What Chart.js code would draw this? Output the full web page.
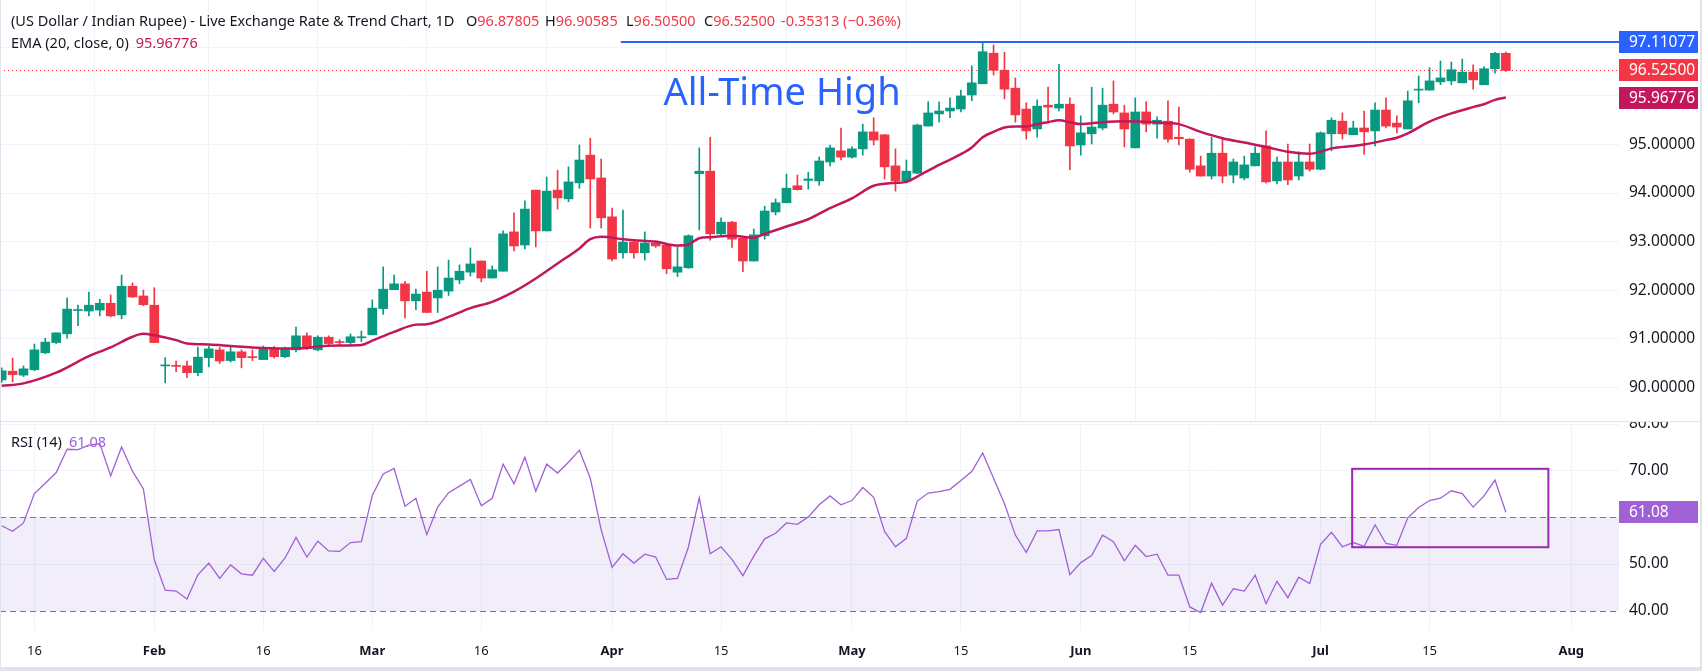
<!DOCTYPE html>
<html>
<head>
<meta charset="utf-8">
<script src="https://cdn.jsdelivr.net/npm/chart.js@4.4.1/dist/chart.umd.min.js"></script>
<style>
  html, body { margin: 0; padding: 0; background: #fff; }
  #wrap { position: relative; width: 1702px; height: 671px; overflow: hidden; background: #fff; }
  canvas { position: absolute; left: 0; }
  #price { top: 0; }
  #rsi { top: 421px; }
  .edge { position: absolute; background: #e0e3eb; }
</style>
</head>
<body>
<div id="wrap">
  <canvas id="price" width="1702" height="421"></canvas>
  <canvas id="rsi" width="1702" height="248"></canvas>
  <div class="edge" style="left:0;top:0;width:1px;height:671px"></div>
  <div class="edge" style="left:1700px;top:0;width:2px;height:671px"></div>
  <div class="edge" style="left:0;top:667px;width:1702px;height:4px"></div>
</div>
<script>
// daily bars, 13 Jan 2026 (index 0) .. 24 Jul 2026 (index 138)
const opens = [
  90.15, 90.33, 90.25, 90.36, 90.71, 90.92, 91.10, 91.58, 91.57, 91.59,
  91.73, 91.49, 92.08, 91.88, 91.69, 90.44, 90.45, 90.44, 90.30, 90.61,
  90.77, 90.55, 90.73, 90.63, 90.57, 90.80, 90.63, 90.77, 91.06, 90.77,
  91.03, 90.93, 90.92, 91.02, 91.08, 91.62, 92.01, 92.13, 91.78, 91.96,
  91.84, 91.98, 92.21, 92.37, 92.60, 92.25, 92.39, 93.20, 92.93, 94.06,
  93.22, 94.06, 93.88, 94.21, 94.78, 94.31, 93.51, 92.77, 92.99, 92.77,
  92.97, 92.93, 92.37, 92.46, 94.40, 94.45, 93.16, 93.40, 93.07, 92.60,
  93.12, 93.61, 93.80, 94.15, 94.26, 94.25, 94.64, 94.87, 94.74, 94.91,
  95.26, 95.20, 94.56, 94.25, 94.41, 95.38, 95.63, 95.69, 95.73, 96.02,
  96.25, 96.88, 96.53, 96.16, 95.73, 95.32, 95.81, 95.75, 95.83, 94.99,
  95.22, 95.34, 95.83, 95.65, 94.93, 95.67, 95.42, 95.48, 95.15, 95.11,
  94.56, 94.35, 94.82, 94.37, 94.31, 94.56, 94.97, 94.25, 94.64, 94.35,
  94.64, 94.49, 95.22, 95.48, 95.20, 95.34, 95.28, 95.71, 95.44, 95.32,
  96.12, 96.12, 96.29, 96.31, 96.27, 96.49, 96.23, 96.56, 96.87805
];
const highs = [
  90.40, 90.60, 90.44, 90.89, 91.01, 91.12, 91.84, 91.69, 91.96, 91.81,
  91.90, 92.31, 92.15, 92.00, 92.05, 90.61, 90.54, 90.54, 90.83, 90.84,
  90.82, 90.85, 90.77, 90.77, 90.85, 90.84, 90.83, 91.24, 91.12, 91.06,
  91.06, 90.98, 91.10, 91.16, 91.80, 92.48, 92.31, 92.18, 92.02, 92.39,
  92.48, 92.62, 92.52, 92.87, 92.60, 92.50, 93.22, 93.59, 93.84, 94.06,
  94.33, 94.47, 94.54, 94.99, 95.13, 94.70, 93.69, 93.65, 93.00, 93.20,
  93.00, 92.93, 92.89, 93.14, 94.93, 95.15, 93.49, 93.42, 93.10, 93.26,
  93.73, 93.88, 94.39, 94.37, 94.43, 94.74, 94.99, 95.34, 94.95, 95.42,
  95.55, 95.21, 94.91, 94.68, 95.42, 95.88, 95.88, 95.96, 96.12, 96.62,
  97.11077, 97.05, 96.90, 96.37, 95.86, 95.92, 96.18, 96.65, 95.96, 95.59,
  96.18, 96.16, 96.31, 95.81, 95.96, 95.88, 95.57, 95.90, 95.77, 95.12,
  94.76, 95.15, 95.13, 94.70, 94.76, 94.95, 95.28, 94.74, 95.01, 94.85,
  95.01, 95.26, 95.55, 95.65, 95.48, 95.69, 95.86, 95.96, 95.59, 96.10,
  96.41, 96.58, 96.72, 96.70, 96.76, 96.64, 96.60, 96.90, 96.90585
];
const lows = [
  90.10, 90.11, 90.22, 90.34, 90.69, 90.90, 91.01, 91.27, 91.47, 91.47,
  91.45, 91.41, 91.85, 91.68, 90.92, 90.09, 90.32, 90.20, 90.24, 90.42,
  90.49, 90.52, 90.40, 90.55, 90.57, 90.60, 90.61, 90.73, 90.78, 90.75,
  90.87, 90.88, 90.86, 90.94, 91.08, 91.50, 92.01, 91.43, 91.60, 91.54,
  91.54, 91.89, 92.13, 92.29, 92.17, 92.25, 92.39, 92.81, 92.85, 92.89,
  93.22, 93.67, 93.82, 94.10, 93.28, 93.28, 92.60, 92.66, 92.66, 92.62,
  92.88, 92.34, 92.28, 92.45, 93.24, 93.03, 93.10, 92.88, 92.38, 92.60,
  93.05, 93.55, 93.80, 94.06, 94.08, 94.16, 94.56, 94.68, 94.72, 94.78,
  94.99, 94.29, 94.04, 94.21, 94.40, 95.38, 95.46, 95.55, 95.67, 95.90,
  96.25, 96.43, 95.94, 95.46, 95.11, 95.15, 95.46, 95.69, 94.48, 94.78,
  95.01, 95.30, 95.63, 94.95, 94.93, 95.26, 95.13, 95.05, 94.99, 94.43,
  94.35, 94.29, 94.21, 94.21, 94.27, 94.56, 94.21, 94.19, 94.17, 94.27,
  94.45, 94.48, 94.87, 95.11, 95.20, 94.80, 94.97, 95.34, 95.24, 95.32,
  95.86, 96.12, 96.23, 96.23, 96.27, 96.14, 96.23, 96.47, 96.50500
];
const closes = [
  90.34, 90.26, 90.38, 90.77, 90.93, 91.12, 91.61, 91.60, 91.69, 91.73,
  91.47, 92.08, 91.86, 91.70, 90.92, 90.46, 90.43, 90.30, 90.62, 90.79,
  90.54, 90.73, 90.61, 90.61, 90.81, 90.63, 90.80, 91.06, 90.80, 91.03,
  90.90, 90.92, 91.04, 91.04, 91.63, 92.02, 92.13, 91.78, 91.92, 91.54,
  92.00, 92.25, 92.39, 92.54, 92.25, 92.42, 93.16, 92.91, 93.67, 93.22,
  94.04, 93.90, 94.23, 94.68, 94.29, 93.49, 92.64, 92.99, 92.77, 92.97,
  92.91, 92.44, 92.48, 93.12, 94.45, 93.16, 93.40, 93.05, 92.60, 93.14,
  93.63, 93.80, 94.10, 94.07, 94.29, 94.66, 94.93, 94.74, 94.91, 95.26,
  95.09, 94.54, 94.25, 94.45, 95.40, 95.65, 95.69, 95.75, 96.00, 96.27,
  96.91, 96.53, 96.14, 95.61, 95.28, 95.79, 95.77, 95.83, 94.97, 95.24,
  95.36, 95.81, 95.67, 95.32, 95.67, 95.42, 95.50, 95.11, 95.12, 94.49,
  94.35, 94.82, 94.35, 94.64, 94.58, 94.82, 94.23, 94.64, 94.27, 94.64,
  94.49, 95.24, 95.50, 95.22, 95.34, 95.26, 95.71, 95.38, 95.36, 95.90,
  96.14, 96.31, 96.37, 96.54, 96.49, 96.33, 96.56, 96.87813, 96.52500
];

// EMA(20) at these bar indexes
const emaIdx = [0, 2, 5, 8, 10, 12, 13, 14, 16, 17, 19, 21, 23, 26, 28, 29, 31, 33, 34, 36,
  38, 39, 41, 43, 45, 47, 49, 51, 53, 54, 55, 57, 58, 60, 62, 63, 64, 65, 67, 69,
  70, 72, 74, 76, 78, 80, 82, 83, 84, 86, 88, 89, 90, 91, 92, 93, 94, 95, 96, 97,
  98, 99, 101, 103, 105, 107, 108, 110, 112, 114, 116, 118, 120, 121, 122, 124, 125, 127, 128, 129,
  131, 133, 135, 136, 137, 138];
const emaVal = [90.03, 90.08, 90.30, 90.64, 90.82, 91.04, 91.10, 91.07, 90.97, 90.90, 90.88, 90.85, 90.82, 90.80, 90.81, 90.84, 90.86, 90.87, 90.96, 91.14,
  91.29, 91.30, 91.45, 91.63, 91.76, 91.97, 92.24, 92.55, 92.86, 93.05, 93.10, 93.05, 93.03, 93.00, 92.92, 92.94, 93.07, 93.09, 93.12, 93.08,
  93.16, 93.31, 93.46, 93.69, 93.89, 94.15, 94.21, 94.23, 94.34, 94.58, 94.80, 94.94, 95.15, 95.26, 95.35, 95.37, 95.37, 95.42, 95.46, 95.50,
  95.46, 95.42, 95.46, 95.48, 95.47, 95.44, 95.42, 95.26, 95.13, 95.04, 94.95, 94.85, 94.81, 94.85, 94.92, 94.97, 95.00, 95.09, 95.14, 95.23,
  95.47, 95.64, 95.77, 95.83, 95.92, 95.96776];

const rsi = [
  58.2, 57.0, 58.8, 65.1, 67.3, 69.6, 74.6, 74.5, 75.5, 75.8,
  68.9, 75.1, 69.9, 66.1, 50.9, 44.4, 44.2, 42.5, 47.7, 50.2,
  46.9, 49.8, 47.9, 47.6, 51.2, 48.4, 51.3, 55.7, 51.5, 54.9,
  52.8, 52.7, 54.6, 54.8, 64.7, 69.3, 70.5, 62.4, 64.1, 56.3,
  62.2, 65.3, 66.7, 68.1, 62.5, 64.1, 71.4, 67.2, 72.9, 65.6,
  71.4, 69.5, 71.8, 74.4, 68.4, 57.3, 49.3, 52.2, 50.2, 52.1,
  51.5, 46.7, 46.9, 53.6, 64.2, 52.2, 53.7, 51.0, 47.5, 51.7,
  55.4, 56.6, 58.8, 58.5, 60.1, 62.7, 64.6, 62.7, 63.6, 66.4,
  64.3, 57.0, 53.7, 55.5, 63.5, 65.2, 65.5, 66.0, 67.9, 69.8,
  73.8, 68.4, 62.9, 56.2, 52.5, 57.1, 57.1, 57.4, 47.7, 50.3,
  51.8, 56.2, 54.8, 50.7, 54.0, 51.6, 52.1, 47.6, 47.6, 40.8,
  39.6, 45.9, 41.2, 44.7, 44.2, 47.6, 41.5, 46.3, 42.8, 47.2,
  45.8, 54.2, 56.8, 53.7, 54.6, 53.8, 58.4, 54.4, 54.0, 59.9,
  62.1, 63.6, 64.1, 65.7, 65.1, 62.2, 64.6, 68.0, 61.08
];

// date axis
const tickIdx = [3, 14, 24, 34, 44, 56, 66, 78, 88, 99, 109, 121, 131, 144];
const tickText = ['16', 'Feb', '16', 'Mar', '16', 'Apr', '15', 'May', '15', 'Jun', '15', 'Jul', '15', 'Aug'];
const priceTicks = [90, 91, 92, 93, 94, 95, 96, 97];
const rsiTicks = [40, 50, 60, 70, 80];
const rsiBand = [40, 60];

const athValue = 97.11077;
const athFrom = 56.8;
const rsiBox = { x0: 123.9, x1: 141.9, y0: 53.6, y1: 70.4 };

// view
const xMin = -0.156, xMax = 148.38;
const priceMin = 89.305, priceMax = 97.976;
const rsiMin = 35.86, rsiMax = 80.65;

const green = '#089981', red = '#f23645', ink = '#131722';
const emaColor = '#c2185b', rsiColor = '#a060d8', blue = '#2962ff';
const gridColor = '#f0f3fa';
const FONT = "'Noto Sans', 'DejaVu Sans', sans-serif";
Chart.defaults.font.family = FONT;
Chart.defaults.color = ink;

const last = closes.length - 1;
const barColors = closes.map((c, i) => c >= opens[i] ? green : red);
const months = ['Feb', 'Mar', 'Apr', 'May', 'Jun', 'Jul', 'Aug'];

function noPad(s) {
  s.paddingLeft = 0; s.paddingRight = 0; s.paddingTop = 0; s.paddingBottom = 0;
}

function xAxis(h, showLabels) {
  return {
    type: 'linear', min: xMin, max: xMax, offset: false,
    border: { display: false },
    grid: { color: gridColor, drawTicks: false },
    afterBuildTicks: s => { s.ticks = tickIdx.map(v => ({ value: v })); },
    afterFit: s => { s.height = h; noPad(s); },
    ticks: {
      display: showLabels, padding: 13, maxRotation: 0, autoSkip: false, color: ink,
      font: c => ({ size: 13, family: FONT, weight: months.includes(tickText[c.index]) ? 'bold' : 'normal' }),
      callback: (v, i) => tickText[i]
    }
  };
}

function yAxis(min, max, ticks, fmt) {
  return {
    position: 'right', min, max,
    border: { display: false },
    grid: { color: gridColor, drawTicks: false },
    afterBuildTicks: s => { s.ticks = ticks.map(v => ({ value: v })); },
    afterFit: s => { s.width = 83; noPad(s); },
    ticks: { padding: 10, color: ink, font: { size: 15.5 }, callback: fmt }
  };
}

function axisTag(ctx, yPix, text, bg) {
  ctx.save();
  ctx.fillStyle = bg;
  ctx.fillRect(1619, Math.round(yPix) - 11, 79, 22);
  ctx.fillStyle = '#fff';
  ctx.font = '15.5px ' + FONT;
  ctx.textBaseline = 'middle';
  ctx.fillText(text, 1629, Math.round(yPix) + 1);
  ctx.restore();
}

// draws text pieces one after another, gap px between them
function runs(ctx, x, y, parts, gap) {
  parts.forEach(p => {
    ctx.fillStyle = p[1];
    ctx.fillText(p[0], x, y);
    x += ctx.measureText(p[0]).width + gap;
  });
}

const priceExtras = {
  id: 'priceExtras',
  beforeDatasetsDraw(chart) {
    const { ctx, chartArea: a, scales: { y } } = chart;
    const yy = Math.round(y.getPixelForValue(closes[last])) + 0.5;
    ctx.save();
    ctx.strokeStyle = red; ctx.lineWidth = 1; ctx.setLineDash([1, 3]);
    ctx.beginPath(); ctx.moveTo(a.left, yy); ctx.lineTo(a.right, yy); ctx.stroke();
    ctx.restore();
  },
  afterDatasetsDraw(chart) {
    const { ctx, chartArea: a, scales: { x, y } } = chart;
    const yy = Math.round(y.getPixelForValue(athValue));
    ctx.save();
    ctx.strokeStyle = blue; ctx.lineWidth = 2;
    ctx.beginPath(); ctx.moveTo(x.getPixelForValue(athFrom), yy); ctx.lineTo(a.right, yy); ctx.stroke();
    ctx.fillStyle = blue;
    ctx.font = '38px ' + FONT;
    ctx.textAlign = 'center'; ctx.textBaseline = 'alphabetic';
    ctx.fillText('All-Time High', x.getPixelForValue(71.6), y.getPixelForValue(95.81));
    ctx.restore();
  },
  afterDraw(chart) {
    const { ctx, scales: { y } } = chart;
    const ema = emaVal[emaVal.length - 1];
    axisTag(ctx, y.getPixelForValue(athValue), athValue.toFixed(5), blue);
    axisTag(ctx, y.getPixelForValue(closes[last]), closes[last].toFixed(5), red);
    axisTag(ctx, y.getPixelForValue(ema), ema.toFixed(5), emaColor);

    const chg = closes[last] - closes[last - 1];
    const pct = chg / closes[last - 1] * 100;
    ctx.save();
    ctx.font = '14.5px ' + FONT;
    ctx.textBaseline = 'middle';
    runs(ctx, 11, 22, [['(US Dollar / Indian Rupee) - Live Exchange Rate & Trend Chart, 1D', ink]], 0);
    const ohlc = [['O', opens[last], 466], ['H', highs[last], 545], ['L', lows[last], 626], ['C', closes[last], 704]];
    ohlc.forEach(([k, v, px]) => runs(ctx, px, 22, [[k, ink], [v.toFixed(5), red]], 0));
    runs(ctx, 781, 22, [[chg.toFixed(5) + ' (\u2212' + Math.abs(pct).toFixed(2) + '%)', red]], 0);
    runs(ctx, 11, 44, [['EMA (20, close, 0)', ink], [ema.toFixed(5), emaColor]], 7);
    ctx.restore();
  }
};

new Chart(document.getElementById('price'), {
  type: 'bar',
  data: {
    datasets: [
      {
        type: 'line', order: 0,
        data: emaIdx.map((v, i) => ({ x: v, y: emaVal[i] })),
        borderColor: emaColor, borderWidth: 2.5, pointRadius: 0, cubicInterpolationMode: 'monotone'
      },
      {
        order: 1, grouped: false, barThickness: 9, minBarLength: 1,
        data: opens.map((o, i) => ({ x: i, y: [o, closes[i]] })),
        backgroundColor: barColors, borderWidth: 0
      },
      {
        order: 2, grouped: false, barThickness: 1,
        data: lows.map((l, i) => ({ x: i, y: [l, highs[i]] })),
        backgroundColor: barColors, borderWidth: 0
      }
    ]
  },
  options: {
    responsive: false, animation: false, devicePixelRatio: 1,
    layout: { padding: 0 },
    plugins: { legend: { display: false }, tooltip: { enabled: false } },
    scales: {
      x: xAxis(0, false),
      y: yAxis(priceMin, priceMax, priceTicks, v => v <= 95 ? v.toFixed(5) : '')
    }
  },
  plugins: [priceExtras]
});

const rsiExtras = {
  id: 'rsiExtras',
  beforeDatasetsDraw(chart) {
    const { ctx, chartArea: a, scales: { y } } = chart;
    const top = y.getPixelForValue(rsiBand[1]), bot = y.getPixelForValue(rsiBand[0]);
    ctx.save();
    ctx.fillStyle = 'rgba(126, 87, 194, 0.1)';
    ctx.fillRect(a.left, top, a.right - a.left, bot - top);
    ctx.strokeStyle = '#787b86'; ctx.lineWidth = 1; ctx.setLineDash([6, 4]);
    [top, bot].forEach(p => {
      ctx.beginPath(); ctx.moveTo(a.left, Math.round(p) + 0.5); ctx.lineTo(a.right, Math.round(p) + 0.5); ctx.stroke();
    });
    ctx.restore();
  },
  afterDatasetsDraw(chart) {
    const { ctx, scales: { x, y } } = chart;
    const l = x.getPixelForValue(rsiBox.x0), r = x.getPixelForValue(rsiBox.x1);
    const t = y.getPixelForValue(rsiBox.y1), b = y.getPixelForValue(rsiBox.y0);
    ctx.save();
    ctx.strokeStyle = '#9c27b0'; ctx.lineWidth = 2;
    ctx.strokeRect(l, t, r - l, b - t);
    ctx.restore();
  },
  afterDraw(chart) {
    const { ctx, scales: { y } } = chart;
    const v = rsi[last];
    axisTag(ctx, y.getPixelForValue(v), v.toFixed(2), rsiColor);
    ctx.save();
    ctx.fillStyle = '#e0e3eb';
    ctx.fillRect(0, 0, 1702, 1);
    ctx.font = '14.5px ' + FONT;
    ctx.textBaseline = 'middle';
    runs(ctx, 11, 22, [['RSI (14)', ink], [v.toFixed(2), rsiColor]], 7);
    ctx.restore();
  }
};

new Chart(document.getElementById('rsi'), {
  type: 'line',
  data: {
    datasets: [{
      data: rsi.map((v, i) => ({ x: i, y: v })),
      borderColor: rsiColor, borderWidth: 1.3, pointRadius: 0, tension: 0
    }]
  },
  options: {
    responsive: false, animation: false, devicePixelRatio: 1,
    layout: { padding: 0 },
    plugins: { legend: { display: false }, tooltip: { enabled: false } },
    scales: {
      x: xAxis(39, true),
      y: yAxis(rsiMin, rsiMax, rsiTicks, v => v === 60 ? '' : v.toFixed(2))
    }
  },
  plugins: [rsiExtras]
});
</script>
</body>
</html>
